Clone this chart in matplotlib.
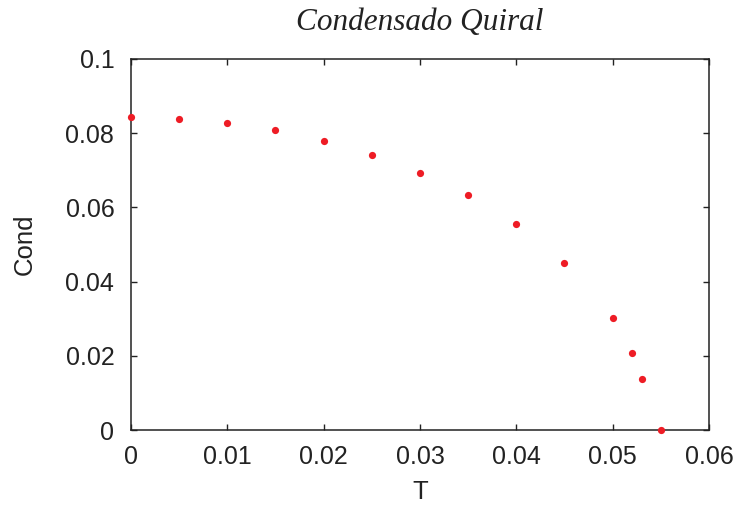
import matplotlib
matplotlib.use("Agg")
import matplotlib.pyplot as plt

# Chiral condensate versus temperature
T = [0.0, 0.005, 0.01, 0.015, 0.02, 0.025, 0.03, 0.035, 0.04, 0.045, 0.05, 0.052, 0.053, 0.055]
cond = [0.0843, 0.0839, 0.0827, 0.0808, 0.0780, 0.0741, 0.0693, 0.0633, 0.0555, 0.0450,
        0.0303, 0.0208, 0.0138, 0.0]

xticks = [0, 0.01, 0.02, 0.03, 0.04, 0.05, 0.06]
xtick_labels = ["0", "0.01", "0.02", "0.03", "0.04", "0.05", "0.06"]
yticks = [0, 0.02, 0.04, 0.06, 0.08, 0.1]
ytick_labels = ["0", "0.02", "0.04", "0.06", "0.08", "0.1"]

plt.rcParams["font.family"] = ["Liberation Sans", "DejaVu Sans"]

fig = plt.figure(figsize=(7.38, 5.08), dpi=100)
ax = fig.add_axes([0.1775, 0.1535, 0.7832, 0.7304])

ax.plot(T, cond, linestyle="none", marker="o", markersize=5.2,
        color="#ee1c25", markeredgewidth=0, clip_on=False, zorder=3)

ax.set_xlim(0, 0.06)
ax.set_ylim(0, 0.1)
ax.set_xticks(xticks)
ax.set_xticklabels(xtick_labels)
ax.set_yticks(yticks)
ax.set_yticklabels(ytick_labels)

ax.tick_params(direction="in", top=True, right=True, length=4.5, width=1,
               labelsize=18, color="#222222", labelcolor="#222222")
ax.tick_params(axis="x", pad=11)
ax.tick_params(axis="y", pad=12)
for s in ax.spines.values():
    s.set_linewidth(1.1)
    s.set_color("#222222")

ax.set_xlabel("T", fontsize=18.5, color="#222222", labelpad=8)
ax.set_ylabel("Cond", fontsize=18.5, color="#222222", labelpad=21)
ax.set_title("Condensado Quiral", fontsize=22.5, family="Liberation Serif",
             style="italic", color="#222222", pad=21)

fig.savefig("out.png", dpi=100)
